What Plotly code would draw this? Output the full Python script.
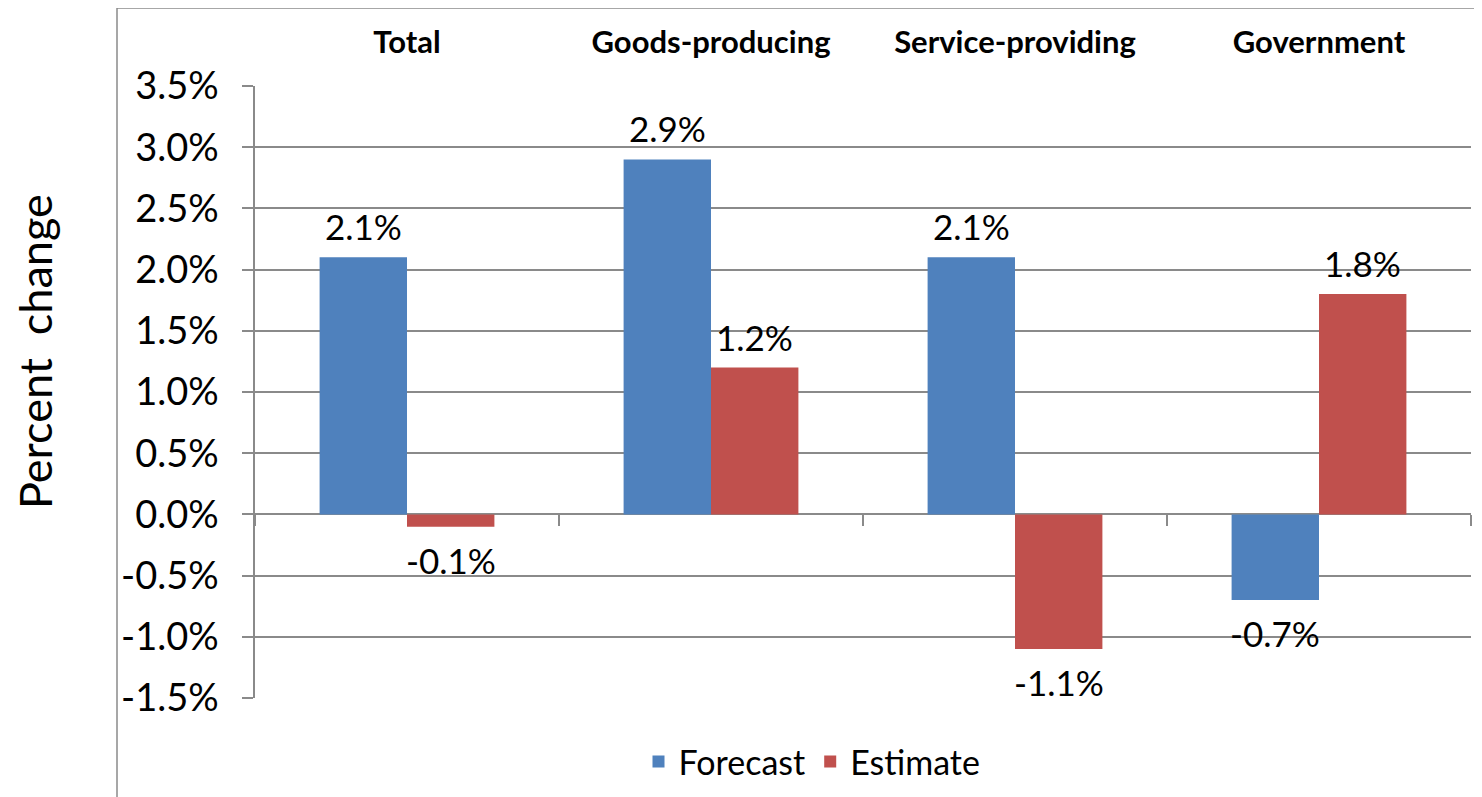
import plotly.graph_objects as go

categories = ["Total", "Goods-producing", "Service-providing", "Government"]
forecast = [2.1, 2.9, 2.1, -0.7]
estimate = [-0.1, 1.2, -1.1, 1.8]
y_ticks = [-1.5, -1.0, -0.5, 0.0, 0.5, 1.0, 1.5, 2.0, 2.5, 3.0, 3.5]
y_title = "Percent  change"

BLUE = "#4F81BD"
RED = "#C0504D"
GRID = "#8A8A8A"
FONT = "Lato"

W, H = 1482, 797
OFF = 8  # default page body margin
L, R, T, B = 255, 1471, 86, 698  # plot area in page pixels
pw, ph = R - L, B - T
BARGAP = 0.425

def fmt(v):
    return f"{v:.1f}%"

xpos = list(range(len(categories)))
ymin, ymax = y_ticks[0], y_ticks[-1]
zero_frac = (0 - ymin) / (ymax - ymin)

fig = go.Figure()
fig.add_trace(go.Bar(
    x=xpos, y=forecast, name="Forecast", marker=dict(color=BLUE, line=dict(width=0)),
    hoverinfo="skip",
))
fig.add_trace(go.Bar(
    x=xpos, y=estimate, name="Estimate", marker=dict(color=RED, line=dict(width=0)),
    hoverinfo="skip",
))
# invisible trace so the zero-line axis is drawn
fig.add_trace(go.Scatter(x=[0], y=[0], xaxis="x2", mode="markers",
                         marker=dict(opacity=0), showlegend=False, hoverinfo="skip"))

# data labels placed at the bar centres (offset derived from the group layout)
bar_w = (1 - BARGAP) / 2
annotations = []
for series, off in ((forecast, -bar_w / 2), (estimate, bar_w / 2)):
    for i, v in enumerate(series):
        pos = v >= 0
        annotations.append(dict(
            x=i + off, y=v, xref="x", yref="y", text=fmt(v), showarrow=False,
            yanchor="bottom" if pos else "top", yshift=8 if pos else -10,
            font=dict(family=FONT, size=35, color="#000000"),
        ))

# y-axis title
annotations.append(dict(
    x=(35 - L) / pw, y=(B - 352) / ph, xref="paper", yref="paper",
    text=y_title, textangle=-90, showarrow=False,
    xanchor="center", yanchor="middle",
    font=dict(family=FONT, size=45, color="#000000"),
))

border_x = (117 - L) / pw
border_y = (B - 8) / ph

fig.update_layout(
    width=W, height=H,
    margin=dict(l=L - OFF, r=W - R + OFF, t=T - OFF, b=H - B + OFF),
    paper_bgcolor="white", plot_bgcolor="white",
    barmode="group", bargap=BARGAP, bargroupgap=0,
    font=dict(family=FONT, color="#000000"),
    showlegend=True,
    legend=dict(orientation="h", x=(812 - L) / pw, xanchor="center",
                y=(B - 762) / ph, yanchor="middle",
                font=dict(family=FONT, size=34), itemwidth=30,
                traceorder="normal"),
    xaxis=dict(
        range=[-0.5, len(categories) - 0.5], side="top",
        tickvals=xpos, ticktext=[f"<b>{c}</b>" for c in categories],
        tickfont=dict(family=FONT, size=31, color="#000000"),
        ticks="", showline=False, showgrid=False, zeroline=False,
        ticklabelstandoff=26,
    ),
    xaxis2=dict(
        overlaying="x", anchor="free", position=zero_frac,
        range=[-0.5, len(categories) - 0.5],
        tickvals=[i - 0.5 for i in range(len(categories) + 1)],
        showticklabels=False, ticks="outside", ticklen=11, tickwidth=1.5,
        tickcolor=GRID, showline=True, linecolor=GRID, linewidth=1.5,
        showgrid=False, zeroline=False, layer="below traces",
    ),
    yaxis=dict(
        range=[ymin, ymax], tickvals=y_ticks, ticktext=[fmt(v) for v in y_ticks],
        tickfont=dict(family=FONT, size=38, color="#000000"),
        ticks="outside", ticklen=11, tickwidth=1.5, tickcolor=GRID,
        ticklabelstandoff=16,
        showline=True, linecolor=GRID, linewidth=1.5,
        showgrid=True, gridcolor=GRID, gridwidth=1.5, zeroline=False,
    ),
    annotations=annotations,
    shapes=[
        dict(type="line", xref="paper", yref="paper", x0=border_x, x1=1.2,
             y0=border_y, y1=border_y, line=dict(color=GRID, width=1.5)),
        dict(type="line", xref="paper", yref="paper", x0=border_x, x1=border_x,
             y0=-0.3, y1=border_y, line=dict(color=GRID, width=1.5)),
    ],
)

fig.write_html("out.html")
